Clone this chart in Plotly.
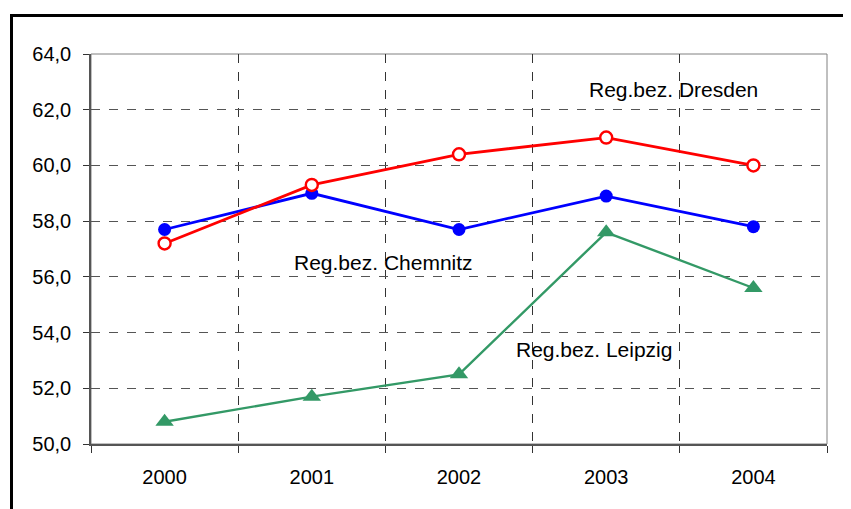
import plotly.graph_objects as go

years = ["2000", "2001", "2002", "2003", "2004"]
chemnitz = [57.7, 59.0, 57.7, 58.9, 57.8]
dresden = [57.2, 59.3, 60.4, 61.0, 60.0]
leipzig = [50.8, 51.7, 52.5, 57.6, 55.6]
y_ticks = [50, 52, 54, 56, 58, 60, 62, 64]
y_tick_text = ["50,0", "52,0", "54,0", "56,0", "58,0", "60,0", "62,0", "64,0"]

xs = list(range(len(years)))
FONT = "Liberation Sans, Arial, sans-serif"

fig = go.Figure()
fig.add_trace(go.Scatter(x=xs, y=chemnitz, mode="lines+markers", name="Reg.bez. Chemnitz",
                         line=dict(color="#0000FF", width=2.8),
                         marker=dict(symbol="circle", size=13, color="#0000FF")))
fig.add_trace(go.Scatter(x=xs, y=dresden, mode="lines+markers", name="Reg.bez. Dresden",
                         line=dict(color="#FF0000", width=2.8),
                         marker=dict(symbol="circle", size=12, color="white",
                                     line=dict(color="#FF0000", width=2.4))))
fig.add_trace(go.Scatter(x=xs, y=leipzig, mode="lines+markers", name="Reg.bez. Leipzig",
                         line=dict(color="#339966", width=2.4),
                         marker=dict(symbol="triangle-up", size=16, color="#339966")))

# page body has an 8px margin, so the figure is drawn at (8, 8)
fig.update_layout(
    width=843, height=501,
    margin=dict(l=83, r=24, t=46, b=65),
    paper_bgcolor="white", plot_bgcolor="white",
    showlegend=False,
    font=dict(family=FONT, size=20, color="black"),
    xaxis=dict(
        range=[-0.5, 4.5], tickvals=xs, ticktext=years, ticks="",
        showgrid=False, zeroline=False,
        showline=True, linecolor="#555555", linewidth=1.5, mirror=False,
        ticklabelstandoff=14,
        tickfont=dict(family=FONT, size=20, color="black"),
        minor=dict(tick0=-0.5, dtick=1, ticks="outside", ticklen=7, tickcolor="#333333",
                   showgrid=True, gridcolor="#333333", griddash="dash", gridwidth=1),
    ),
    yaxis=dict(
        range=[50, 64], tickvals=y_ticks, ticktext=y_tick_text,
        ticks="outside", ticklen=6, tickcolor="#333333",
        showgrid=True, gridcolor="#555555", griddash="dash", gridwidth=1,
        zeroline=False,
        showline=True, linecolor="#555555", linewidth=1.5,
        ticklabelstandoff=8,
        tickfont=dict(family=FONT, size=20, color="black"),
    ),
)

# plot-area border (top and right in grey)
fig.add_shape(type="rect", xref="paper", yref="paper", x0=0, x1=1, y0=0, y1=1,
              line=dict(color="#808080", width=1), layer="below")
# outer chart frame
fig.add_shape(type="rect", xref="paper", yref="paper",
              x0=(11.5 - 91) / 736, x1=1.2, y0=-0.5, y1=1 + (54 - 15.5) / 390,
              line=dict(color="black", width=3))

labels = [("Reg.bez. Dresden", 3.454, 62.73), ("Reg.bez. Chemnitz", 1.484, 56.5),
          ("Reg.bez. Leipzig", 2.92, 53.41)]
for text, x, y in labels:
    fig.add_annotation(x=x, y=y, text=text, showarrow=False, xref="x", yref="y",
                       font=dict(family=FONT, size=21, color="black"))

fig.write_html("out.html")
